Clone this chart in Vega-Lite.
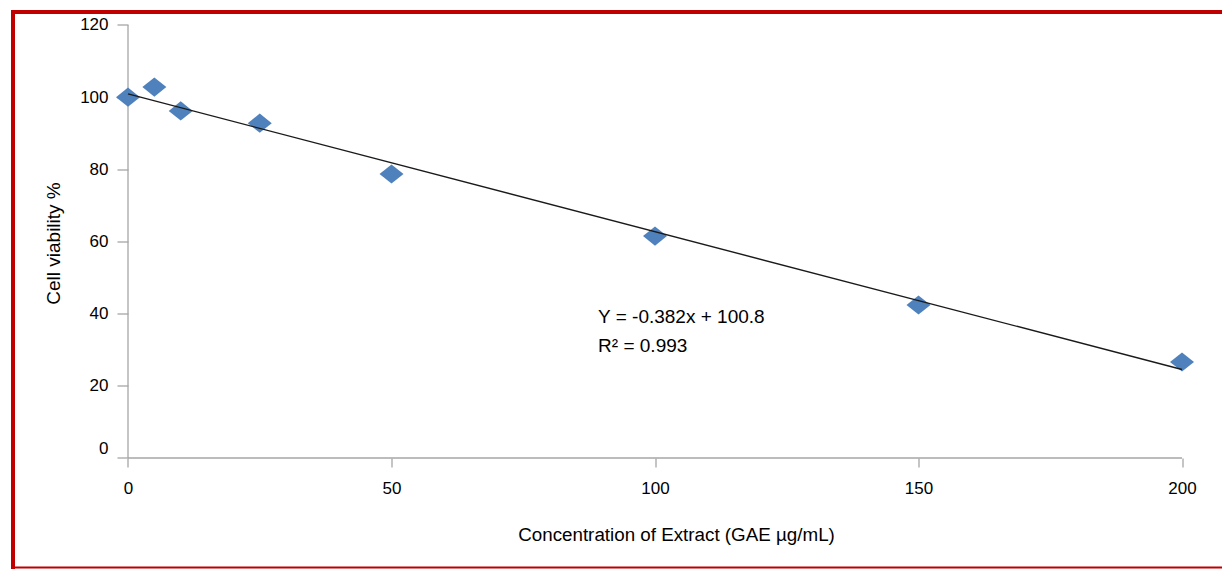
{
  "$schema": "https://vega.github.io/schema/vega-lite/v6.json",
  "width": 1209.5,
  "height": 555.5,
  "autosize": {"type": "none"},
  "padding": {"left": 12.5, "top": 11.5, "right": 0, "bottom": 2},
  "background": "white",
  "config": {
    "view": {"stroke": null},
    "font": "Liberation Sans",
    "axis": {"grid": false, "labelFlush": false, "labelOverlap": false}
  },
  "datasets": {
    "cells": [
      {"concentration": 0, "viability": 100},
      {"concentration": 5, "viability": 102.8},
      {"concentration": 10, "viability": 96.2},
      {"concentration": 25, "viability": 92.8},
      {"concentration": 50, "viability": 78.7},
      {"concentration": 100, "viability": 61.5},
      {"concentration": 150, "viability": 42.4},
      {"concentration": 200, "viability": 26.6}
    ]
  },
  "layer": [
    {
      "data": {"values": [{}]},
      "mark": {"type": "rule", "color": "#a6a6a6", "strokeWidth": 1.3},
      "encoding": {
        "x": {
          "datum": 0, "type": "quantitative",
          "scale": {"domain": [-21.9165, 207.5901], "nice": false, "zero": false},
          "axis": {"orient": "top", "offset": 0, "domainColor": "#c00000", "domainWidth": 4, "domainCap": "square", "ticks": false, "labels": false, "title": null}
        },
        "y": {
          "datum": 0, "type": "quantitative",
          "scale": {"domain": [-30.2079, 123.7413], "nice": false, "zero": false},
          "axis": {"orient": "left", "offset": 0, "domainColor": "#c00000", "domainWidth": 4, "domainCap": "square", "ticks": false, "labels": false, "title": null}
        },
        "y2": {"datum": 120}
      }
    },
    {
      "data": {"values": [{}]},
      "mark": {"type": "rule", "color": "#a6a6a6", "strokeWidth": 1.3},
      "encoding": {
        "x": {
          "datum": 0, "type": "quantitative",
          "scale": {"domain": [-21.9165, 207.5901], "nice": false, "zero": false},
          "axis": {"orient": "bottom", "offset": 0, "domainColor": "#c00000", "domainWidth": 2, "ticks": false, "labels": false, "title": null}
        },
        "x2": {"datum": 200},
        "y": {
          "datum": 0, "type": "quantitative",
          "scale": {"domain": [-30.2079, 123.7413], "nice": false, "zero": false},
          "axis": null
        }
      }
    },
    {
      "data": {"name": "cells"},
      "mark": {"type": "point", "shape": "M -1 0 L 0 -0.8 L 1 0 L 0 0.8 Z", "filled": true, "size": 576, "color": "#4F81BD", "opacity": 1},
      "encoding": {
        "x": {
          "field": "concentration", "type": "quantitative",
          "scale": {"domain": [-21.9165, 207.5901], "nice": false, "zero": false},
          "axis": {
            "orient": "bottom", "offset": -109, "values": [0, 50, 100, 150, 200], "domain": false,
            "tickSize": 9, "tickColor": "#a6a6a6", "tickWidth": 1.3,
            "labelFontSize": 17, "labelColor": "#000000", "labelPadding": 13.5,
            "title": "Concentration of Extract (GAE µg/mL)", "titleFontSize": 18.8, "titleFontWeight": "normal", "titleColor": "#000000",
            "titleX": 663.5, "titleY": 82, "titleAlign": "center", "titleBaseline": "alphabetic"
          }
        },
        "y": {
          "field": "viability", "type": "quantitative",
          "scale": {"domain": [-30.2079, 123.7413], "nice": false, "zero": false},
          "axis": {
            "orient": "left", "offset": -115.5, "values": [0, 20, 40, 60, 80, 100, 120], "domain": false,
            "tickSize": 11, "tickColor": "#a6a6a6", "tickWidth": 1.3,
            "labelFontSize": 17, "labelColor": "#000000", "labelPadding": 9,
            "labelBaseline": {"condition": {"test": "datum.value === 0", "value": "bottom"}, "value": "middle"},
            "title": "Cell viability %", "titleFontSize": 19, "titleFontWeight": "normal", "titleColor": "#000000",
            "titleAngle": -90, "titleX": -68.5, "titleY": 231.5, "titleAlign": "center", "titleBaseline": "alphabetic"
          }
        }
      }
    },
    {
      "data": {"name": "cells"},
      "transform": [{"regression": "viability", "on": "concentration", "extent": [0, 200]}],
      "mark": {"type": "line", "color": "#1a1a1a", "strokeWidth": 1.4},
      "encoding": {
        "x": {"field": "concentration", "type": "quantitative", "scale": {"domain": [-21.9165, 207.5901], "nice": false, "zero": false}, "axis": null},
        "y": {"field": "viability", "type": "quantitative", "scale": {"domain": [-30.2079, 123.7413], "nice": false, "zero": false}, "axis": null}
      }
    },
    {
      "data": {"values": [{}]},
      "mark": {"type": "text", "text": ["Y = -0.382x + 100.8", "R² = 0.993"], "align": "left", "baseline": "alphabetic", "fontSize": 19, "lineHeight": 28.6, "color": "#000000"},
      "encoding": {
        "x": {"datum": 89.2, "type": "quantitative", "scale": {"domain": [-21.9165, 207.5901], "nice": false, "zero": false}, "axis": null},
        "y": {"datum": 37.3, "type": "quantitative", "scale": {"domain": [-30.2079, 123.7413], "nice": false, "zero": false}, "axis": null}
      }
    }
  ],
  "resolve": {"axis": {"x": "independent", "y": "independent"}}
}
